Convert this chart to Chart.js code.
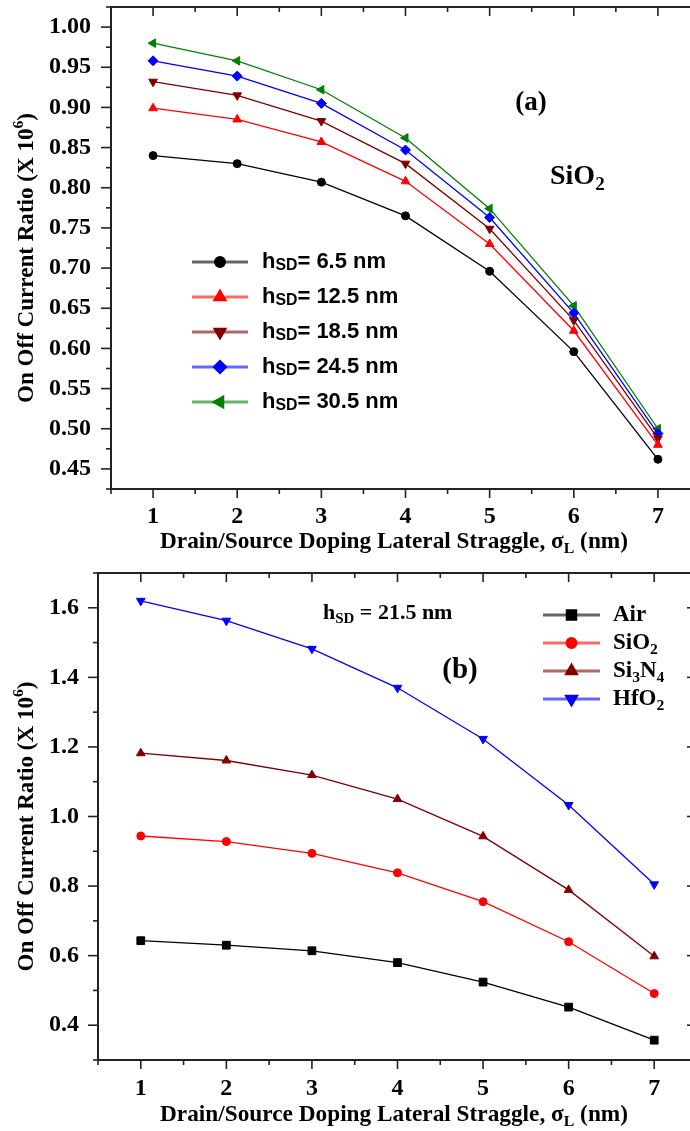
<!DOCTYPE html>
<html>
<head>
<meta charset="utf-8">
<script src="https://cdn.jsdelivr.net/npm/chart.js@4.4.1/dist/chart.umd.min.js"></script>
<style>
  html, body { margin: 0; padding: 0; background: #fff; width: 690px; height: 1131px; overflow: hidden; }
  canvas { position: absolute; left: 0; }
  #chartA { top: 0; }
  #chartB { top: 560px; }
</style>
</head>
<body>
<canvas id="chartA" width="720" height="560"></canvas>
<canvas id="chartB" width="720" height="571"></canvas>
<script>
// lateral straggle (nm)
const sigma = [1, 2, 3, 4, 5, 6, 7];

// (a) SiO2 spacer, different hSD
const hsd65  = [0.840, 0.830, 0.807, 0.765, 0.696, 0.596, 0.462];
const hsd125 = [0.899, 0.885, 0.857, 0.808, 0.730, 0.622, 0.480];
const hsd185 = [0.932, 0.915, 0.883, 0.830, 0.749, 0.635, 0.488];
const hsd245 = [0.958, 0.939, 0.905, 0.847, 0.763, 0.644, 0.494];
const hsd305 = [0.980, 0.958, 0.922, 0.862, 0.774, 0.653, 0.500];

// (b) hSD = 21.5 nm, different spacers
const air   = [0.643, 0.630, 0.614, 0.580, 0.524, 0.452, 0.357];
const sio2  = [0.944, 0.928, 0.894, 0.838, 0.755, 0.640, 0.491];
const si3n4 = [1.182, 1.161, 1.119, 1.050, 0.943, 0.789, 0.598];
const hfo2  = [1.620, 1.563, 1.482, 1.370, 1.223, 1.033, 0.805];

// tick labels
const xTicks  = [1, 2, 3, 4, 5, 6, 7];
const yTicksA = [0.45, 0.50, 0.55, 0.60, 0.65, 0.70, 0.75, 0.80, 0.85, 0.90, 0.95, 1.00];
const yTicksB = [0.4, 0.6, 0.8, 1.0, 1.2, 1.4, 1.6];

const SERIF = '"Liberation Serif", "Times New Roman", serif';
const SANS = '"Liberation Sans", Arial, sans-serif';
const yTitle = 'On Off Current Ratio (X 10^{6})';
const xTitle = 'Drain/Source Doping Lateral Straggle, σ_{L} (nm)';

const pts = arr => sigma.map((x, i) => ({ x: x, y: arr[i] }));

function halfSteps(arr) {
  const step = arr[1] - arr[0];
  const out = [];
  for (let i = 0; i <= arr.length; i++) out.push(arr[0] - step / 2 + i * step);
  return out;
}

// text with _{sub} and ^{sup}
function parseRich(str) {
  const parts = [];
  const re = /([_^])\{([^}]*)\}/g;
  let last = 0, m;
  while ((m = re.exec(str))) {
    if (m.index > last) parts.push({ t: str.slice(last, m.index), k: 0 });
    parts.push({ t: m[2], k: m[1] === '_' ? -1 : 1 });
    last = re.lastIndex;
  }
  if (last < str.length) parts.push({ t: str.slice(last), k: 0 });
  return parts;
}

function drawRich(ctx, str, x, y, o) {
  const parts = parseRich(str);
  const size = o.size, small = size * (o.subScale || 0.68);
  const weight = o.weight || 'bold';
  let w = 0;
  parts.forEach(p => {
    ctx.font = weight + ' ' + (p.k ? small : size) + 'px ' + o.family;
    p.w = ctx.measureText(p.t).width;
    w += p.w;
  });
  ctx.save();
  ctx.translate(x, y);
  if (o.rotate) ctx.rotate(o.rotate);
  if (o.fit) ctx.scale(o.fit / w, 1);
  let cx = o.align === 'center' ? -w / 2 : 0;
  ctx.textBaseline = 'middle';
  ctx.textAlign = 'left';
  ctx.fillStyle = o.color || '#000';
  parts.forEach(p => {
    ctx.font = weight + ' ' + (p.k ? small : size) + 'px ' + o.family;
    const dy = p.k < 0 ? size * (o.subDrop || 0.3) : p.k > 0 ? -size * 0.35 : 0;
    ctx.fillText(p.t, cx, dy);
    cx += p.w;
  });
  ctx.restore();
}

const decor = {
  id: 'decor',
  afterDraw(chart, args, o) {
    const { ctx, chartArea: a } = chart;
    const xs = chart.scales.x, ys = chart.scales.y;
    ctx.save();
    ctx.strokeStyle = '#222';
    ctx.lineWidth = 2;
    ctx.strokeRect(a.left, a.top, a.right - a.left, a.bottom - a.top);
    ctx.lineWidth = 1.6;
    const seg = (x1, y1, x2, y2) => { ctx.beginPath(); ctx.moveTo(x1, y1); ctx.lineTo(x2, y2); ctx.stroke(); };
    const xt = (vals, len) => vals.forEach(v => {
      if (v < xs.min || v > xs.max) return;
      const p = xs.getPixelForValue(v);
      seg(p, a.bottom, p, a.bottom + len);
      seg(p, a.top, p, a.top + len);
    });
    const yt = (vals, len) => vals.forEach(v => {
      if (v < ys.min - 1e-9 || v > ys.max + 1e-9) return;
      const p = ys.getPixelForValue(v);
      seg(a.left - len, p, a.left, p);
      seg(a.right - len, p, a.right, p);
    });
    xt(xTicks, 9); xt(halfSteps(xTicks), 5);
    yt(o.yMajor, 10); yt(halfSteps(o.yMajor), 5);
    ctx.restore();

    // axis titles
    drawRich(ctx, yTitle, 27, (a.top + a.bottom) / 2 + 10,
      { size: 23, family: SERIF, align: 'center', rotate: -Math.PI / 2, fit: 290 });
    drawRich(ctx, xTitle, 394, a.bottom + o.xTitleDy,
      { size: 23, family: SERIF, align: 'center', fit: 468 });

    // notes
    o.notes.forEach(n => drawRich(ctx, n.text, a.left + n.dx, a.top + n.dy,
      { size: n.size, family: n.family || SERIF, align: n.align || 'left' }));

    // legend
    const L = o.legend;
    chart.data.datasets.forEach((ds, i) => {
      const cy = a.top + L.dy + i * L.step;
      const x0 = a.left + L.dx;
      ctx.save();
      ctx.globalAlpha = 0.6;
      ctx.strokeStyle = ds.borderColor;
      ctx.lineWidth = 3;
      seg(x0, cy, x0 + L.len, cy);
      ctx.globalAlpha = 1;
      ctx.fillStyle = ds.borderColor;
      ctx.strokeStyle = ds.borderColor;
      if (Chart.helpers && Chart.helpers.drawPoint) {
        Chart.helpers.drawPoint(ctx, {
          pointStyle: ds.pointStyle, rotation: ds.pointRotation || 0,
          radius: ds.pointRadius + 0.5, borderWidth: 1
        }, x0 + L.len / 2, cy);
      }
      ctx.restore();
      drawRich(ctx, ds.label, x0 + L.len + L.gap, cy,
        { size: L.size, family: L.family, weight: L.weight, subScale: L.subScale, subDrop: L.subDrop });
    });
  }
};

function ds(label, arr, color, style, rot, r) {
  return {
    label: label, data: pts(arr),
    borderColor: color, backgroundColor: color,
    borderWidth: 1.3, pointStyle: style, pointRotation: rot, pointRadius: r,
    pointBorderWidth: 1, pointBackgroundColor: color, pointBorderColor: color,
    tension: 0, fill: false
  };
}

function makeOptions(c) {
  const tickFont = { family: SERIF, size: 24, weight: 'bold', lineHeight: 1.2 };
  return {
    responsive: false,
    animation: false,
    events: [],
    layout: { padding: c.padding },
    plugins: { legend: { display: false }, tooltip: { enabled: false }, decor: c.decor },
    scales: {
      x: {
        type: 'linear', min: 0.5, max: 7.5,
        afterBuildTicks: s => { s.ticks = xTicks.map(v => ({ value: v })); },
        afterFit: s => { s.height = 71; s.paddingLeft = 0; s.paddingRight = 0; },
        grid: { display: false, drawTicks: false }, border: { display: false },
        ticks: { autoSkip: false, maxRotation: 0, padding: c.xPad, color: '#000', font: tickFont,
                 callback: v => String(v) }
      },
      y: {
        type: 'linear', min: c.yMin, max: c.yMax,
        afterBuildTicks: s => { s.ticks = c.yTicks.map(v => ({ value: v })); },
        afterFit: s => { s.width = c.yWidth; s.paddingTop = 0; s.paddingBottom = 0; },
        grid: { display: false, drawTicks: false }, border: { display: false },
        ticks: { autoSkip: false, padding: c.yPad, color: '#000', font: tickFont,
                 callback: v => v.toFixed(c.digits) }
      }
    }
  };
}

new Chart(document.getElementById('chartA').getContext('2d'), {
  type: 'line',
  data: {
    datasets: [
      ds('h_{SD}= 6.5 nm', hsd65, '#000000', 'circle', 0, 4),
      ds('h_{SD}= 12.5 nm', hsd125, '#ff0000', 'triangle', 0, 5),
      ds('h_{SD}= 18.5 nm', hsd185, '#800000', 'triangle', 180, 5),
      ds('h_{SD}= 24.5 nm', hsd245, '#0000ff', 'rectRot', 0, 5),
      ds('h_{SD}= 30.5 nm', hsd305, '#008000', 'triangle', -90, 5)
    ]
  },
  options: makeOptions({
    padding: { top: 7, right: 20, left: 0, bottom: 0 },
    yMin: 0.425, yMax: 1.025, yTicks: yTicksA, digits: 2,
    yWidth: 111, yPad: 20, xPad: 13,
    decor: {
      yMajor: yTicksA, xTitleDy: 53,
      notes: [
        { text: '(a)', dx: 420, dy: 96, size: 27, align: 'center' },
        { text: 'SiO_{2}', dx: 439, dy: 170, size: 28 }
      ],
      legend: { dx: 81, dy: 255, step: 35, len: 56, gap: 14, size: 22,
                family: SANS, weight: 'bold', subScale: 0.72, subDrop: 0.18 }
    }
  }),
  plugins: [decor]
});

new Chart(document.getElementById('chartB').getContext('2d'), {
  type: 'line',
  data: {
    datasets: [
      ds('Air', air, '#000000', 'rect', 0, 5.5),
      ds('SiO_{2}', sio2, '#ff0000', 'circle', 0, 4),
      ds('Si_{3}N_{4}', si3n4, '#800000', 'triangle', 0, 5),
      ds('HfO_{2}', hfo2, '#0000ff', 'triangle', 180, 5)
    ]
  },
  options: makeOptions({
    padding: { top: 13, right: 23, left: 0, bottom: 0 },
    yMin: 0.3, yMax: 1.7, yTicks: yTicksB, digits: 1,
    yWidth: 98, yPad: 19, xPad: 14,
    decor: {
      yMajor: yTicksB, xTitleDy: 55,
      notes: [
        { text: 'h_{SD} = 21.5 nm', dx: 225, dy: 40, size: 22 },
        { text: '(b)', dx: 362, dy: 98, size: 29, align: 'center' }
      ],
      legend: { dx: 445, dy: 42, step: 28, len: 57, gap: 13, size: 23,
                family: SERIF, weight: 'bold', subScale: 0.68, subDrop: 0.3 }
    }
  }),
  plugins: [decor]
});
</script>
</body>
</html>
